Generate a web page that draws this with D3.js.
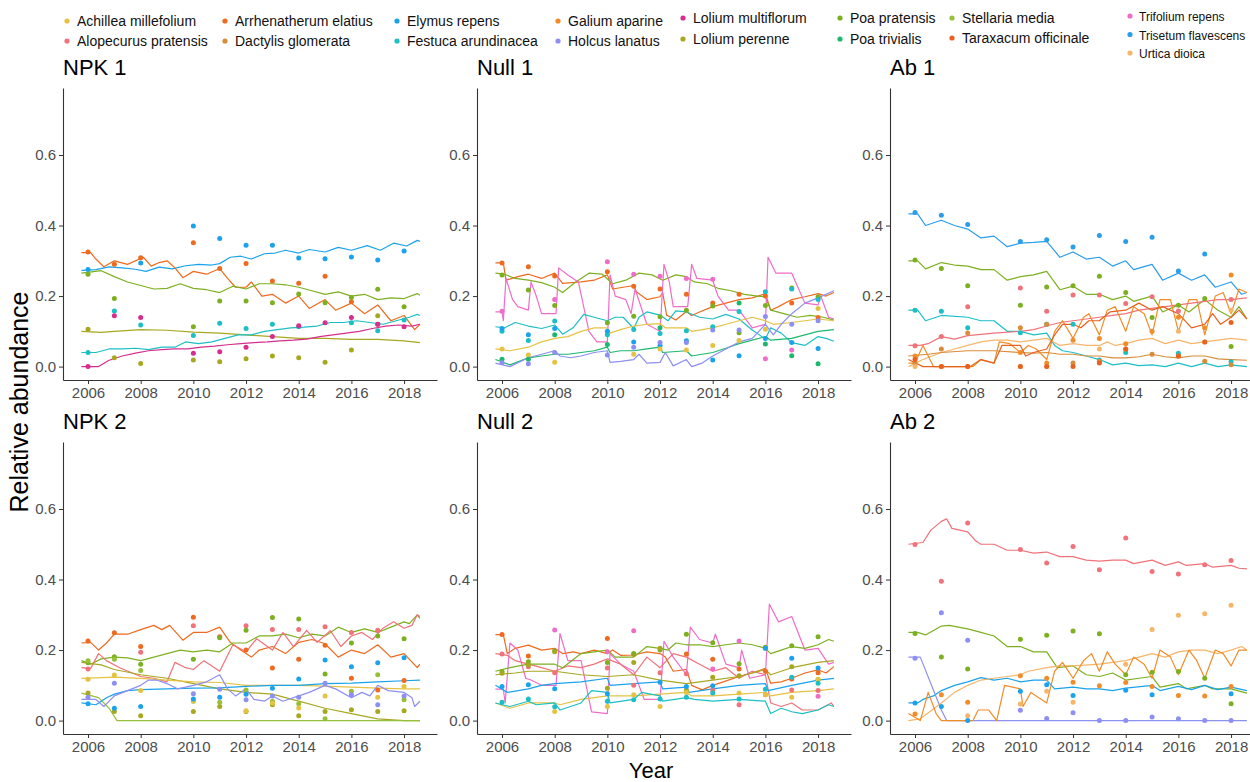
<!DOCTYPE html>
<html>
<head>
<meta charset="utf-8">
<script src="https://cdn.jsdelivr.net/npm/d3@7/dist/d3.min.js"></script>
<style>
  body { margin: 0; background: #fff; }
  svg { display: block; font-family: "Liberation Sans", Arial, sans-serif; }
</style>
</head>
<body>
<svg id="chart" width="1250" height="782"></svg>
<script>
'use strict';

/*** Data */
const species = [
  "Achillea millefolium", "Alopecurus pratensis", "Arrhenatherum elatius", "Dactylis glomerata",
  "Elymus repens", "Festuca arundinacea", "Galium aparine", "Holcus lanatus",
  "Lolium multiflorum", "Lolium perenne", "Poa pratensis", "Poa trivialis",
  "Stellaria media", "Taraxacum officinale", "Trifolium repens", "Trisetum flavescens", "Urtica dioica"
];
const speciesColors = [
  "#e6c243", "#f0727a", "#ee6a1e", "#d98c3a",
  "#1aa3ec", "#1cbfc6", "#f28c28", "#8d8ff2",
  "#d62e8e", "#a8a820", "#7db020", "#1db86d",
  "#98bf3a", "#e8611f", "#f06cc9", "#2b9eeb", "#f5b56b"
];

const panelNames = ["NPK 1", "Null 1", "Ab 1", "NPK 2", "Null 2", "Ab 2"];
const yTicks = [0, 0.2, 0.4, 0.6];
const xTicks = [2006, 2008, 2010, 2012, 2014, 2016, 2018];
// years with field observations (no 2009 survey)
const obsYears = [2006, 2007, 2008, 2010, 2011, 2012, 2013, 2014, 2015, 2016, 2017, 2018];

/* NPK 1 */
const npk1Fits = {
  "Elymus repens": [[2005.75,.273],[2006.3,.275],[2006.8,.283],[2007.3,.28],[2007.8,.276],[2008.2,.27],[2008.7,.282],[2009.2,.277],[2009.7,.286],[2010.2,.29],[2010.7,.288],[2011.0,.292],[2011.4,.31],[2011.8,.313],[2012.2,.305],[2012.7,.32],[2013.1,.322],[2013.5,.33],[2014.0,.322],[2014.4,.332],[2015.0,.325],[2015.5,.338],[2016.0,.33],[2016.6,.343],[2017.1,.33],[2017.6,.35],[2018.1,.342],[2018.5,.358],[2018.6,.355]],
  "Arrhenatherum elatius": [[2005.75,.323],[2006.1,.323],[2006.3,.305],[2006.6,.283],[2007.0,.3],[2007.5,.29],[2008.1,.31],[2008.4,.285],[2008.7,.295],[2009.0,.3],[2009.3,.28],[2009.6,.252],[2010.0,.27],[2010.5,.262],[2011.0,.278],[2011.3,.25],[2011.6,.225],[2012.0,.225],[2012.2,.24],[2012.6,.2],[2013.0,.205],[2013.5,.18],[2014.0,.2],[2014.4,.165],[2015.0,.19],[2015.4,.16],[2016.0,.18],[2016.5,.15],[2017.0,.175],[2017.5,.13],[2018.0,.145],[2018.4,.105],[2018.6,.12]],
  "Poa pratensis": [[2005.75,.265],[2006.5,.272],[2007.0,.255],[2007.5,.24],[2008.0,.23],[2008.5,.22],[2009.0,.222],[2009.5,.235],[2010.0,.222],[2010.5,.218],[2011.0,.21],[2011.5,.228],[2012.0,.22],[2012.5,.235],[2013.0,.235],[2013.5,.232],[2014.0,.225],[2014.5,.215],[2015.0,.205],[2015.5,.212],[2016.0,.2],[2016.5,.205],[2017.0,.19],[2017.5,.195],[2018.0,.193],[2018.5,.207],[2018.6,.202]],
  "Lolium perenne": [[2005.75,.1],[2006.5,.097],[2007.0,.1],[2008.0,.105],[2009.0,.103],[2010.0,.098],[2011.0,.095],[2012.0,.09],[2013.0,.085],[2014.0,.08],[2015.0,.08],[2016.0,.077],[2017.0,.077],[2018.0,.073],[2018.6,.068]],
  "Festuca arundinacea": [[2005.75,.04],[2006.3,.04],[2006.8,.05],[2007.3,.05],[2007.8,.052],[2008.3,.048],[2008.8,.055],[2009.3,.055],[2009.7,.07],[2010.2,.065],[2010.7,.07],[2011.2,.08],[2011.7,.09],[2012.2,.09],[2012.7,.1],[2013.2,.105],[2013.7,.11],[2014.2,.112],[2014.7,.115],[2015.2,.125],[2015.7,.125],[2016.2,.13],[2016.7,.125],[2017.2,.12],[2017.7,.13],[2018.2,.14],[2018.5,.148],[2018.6,.145]],
  "Lolium multiflorum": [[2005.75,0],[2006.4,0],[2006.8,.018],[2007.3,.03],[2007.8,.038],[2008.3,.045],[2008.8,.048],[2009.3,.05],[2009.8,.05],[2010.3,.055],[2010.8,.058],[2011.3,.062],[2011.8,.065],[2012.3,.068],[2012.8,.07],[2013.3,.073],[2013.8,.075],[2014.3,.078],[2014.8,.085],[2015.3,.09],[2015.8,.095],[2016.3,.1],[2016.8,.108],[2017.3,.115],[2017.8,.118],[2018.3,.115],[2018.6,.12]]
};
const npk1Obs = {
  "Elymus repens": [.275,null,.294,.399,.363,.344,.344,.308,.306,.311,.302,.328],
  "Arrhenatherum elatius": [.325,.29,.309,.351,.278,.292,.243,.236,.256,.184,.12,null],
  "Poa pratensis": [.262,.193,null,.113,.186,.186,.181,.206,.181,.196,.219,.17],
  "Lolium perenne": [.106,.025,.009,.019,.014,.022,.03,.025,.012,.047,.144,null],
  "Festuca arundinacea": [.04,.158,.118,.088,.123,.108,.12,.113,null,.124,.102,.132],
  "Lolium multiflorum": [0,.144,.139,.038,.042,.055,.085,.116,.124,.139,.12,.113]
};

/* Null 1 */
const null1Fits = {
  "Arrhenatherum elatius": [[2005.75,.294],[2006.05,.294],[2006.15,.245],[2006.6,.255],[2007.0,.262],[2007.5,.25],[2008.0,.265],[2008.3,.236],[2009.0,.24],[2009.5,.245],[2010.0,.26],[2010.2,.22],[2010.6,.225],[2011.0,.23],[2011.1,.212],[2011.5,.19],[2012.0,.198],[2012.1,.21],[2012.25,.146],[2012.6,.132],[2013.0,.156],[2013.2,.145],[2013.5,.155],[2014.0,.17],[2014.5,.18],[2015.0,.19],[2015.5,.195],[2016.0,.207],[2016.2,.16],[2016.5,.17],[2017.0,.19],[2017.5,.198],[2018.0,.207],[2018.3,.2],[2018.6,.21]],
  "Poa pratensis": [[2005.75,.265],[2006.1,.262],[2006.5,.25],[2007.0,.245],[2007.5,.238],[2008.0,.225],[2008.3,.21],[2008.8,.24],[2009.3,.265],[2009.8,.262],[2010.2,.235],[2010.7,.245],[2011.2,.265],[2011.7,.26],[2012.1,.245],[2012.6,.26],[2013.0,.255],[2013.3,.24],[2013.8,.235],[2014.2,.222],[2014.7,.215],[2015.2,.205],[2015.7,.2],[2016.0,.198],[2016.2,.16],[2016.7,.15],[2017.2,.14],[2017.7,.145],[2018.2,.14],[2018.6,.132]],
  "Trifolium repens": [[2005.75,.155],[2006.0,.155],[2006.05,.13],[2006.15,.25],[2006.4,.19],[2006.6,.17],[2007.0,.16],[2007.1,.24],[2007.3,.2],[2007.5,.15],[2008.05,.15],[2008.15,.28],[2008.5,.26],[2008.9,.24],[2009.3,.1],[2009.6,.07],[2010.0,.07],[2010.1,.26],[2010.3,.2],[2010.7,.19],[2010.9,.15],[2011.05,.22],[2011.5,.12],[2012.0,.1],[2012.15,.29],[2012.35,.24],[2012.5,.17],[2013.05,.17],[2013.2,.29],[2013.4,.25],[2014.0,.245],[2014.2,.2],[2014.6,.16],[2015.0,.16],[2015.5,.11],[2016.0,.12],[2016.1,.31],[2016.4,.265],[2017.0,.265],[2017.5,.18],[2018.0,.175],[2018.1,.2],[2018.4,.14],[2018.6,.135]],
  "Festuca arundinacea": [[2005.75,.113],[2006.1,.11],[2006.5,.125],[2007.0,.115],[2007.5,.108],[2008.0,.118],[2008.3,.092],[2008.7,.11],[2009.1,.148],[2009.5,.14],[2010.0,.13],[2010.3,.14],[2010.6,.14],[2011.0,.108],[2011.2,.14],[2011.5,.155],[2012.0,.146],[2012.3,.13],[2012.6,.158],[2013.0,.155],[2013.5,.14],[2014.0,.135],[2014.5,.148],[2015.0,.135],[2015.5,.104],[2016.0,.078],[2016.2,.11],[2016.6,.095],[2017.0,.068],[2017.5,.06],[2018.0,.085],[2018.3,.08],[2018.6,.072]],
  "Achillea millefolium": [[2005.75,.05],[2006.3,.045],[2007.0,.055],[2007.5,.07],[2008.0,.08],[2008.5,.085],[2009.0,.1],[2009.5,.11],[2010.0,.11],[2010.1,.095],[2010.5,.105],[2011.0,.115],[2011.5,.12],[2012.0,.122],[2012.2,.11],[2013.0,.11],[2013.2,.1],[2014.0,.11],[2014.5,.12],[2015.0,.13],[2015.5,.14],[2016.0,.13],[2016.3,.12],[2017.0,.125],[2017.5,.13],[2018.0,.135],[2018.6,.13]],
  "Poa trivialis": [[2005.75,.02],[2006.3,.005],[2007.0,.025],[2007.5,.03],[2008.0,.035],[2008.5,.035],[2009.0,.04],[2009.5,.045],[2010.0,.055],[2010.1,.04],[2010.5,.045],[2011.0,.045],[2011.5,.05],[2012.0,.055],[2012.1,.04],[2013.0,.045],[2013.2,.03],[2014.0,.04],[2014.5,.052],[2015.0,.065],[2015.5,.075],[2016.0,.085],[2016.2,.075],[2017.0,.08],[2017.5,.09],[2018.0,.1],[2018.6,.105]],
  "Holcus lanatus": [[2005.75,.01],[2006.3,0],[2007.0,.025],[2007.5,.035],[2008.0,.045],[2008.2,.03],[2008.6,.025],[2009.0,.03],[2009.5,.04],[2010.0,.045],[2010.1,.012],[2010.5,.015],[2011.0,.02],[2011.2,.035],[2011.5,.01],[2012.0,.012],[2012.2,.04],[2012.5,.002],[2013.0,.02],[2013.2,0],[2013.6,.01],[2014.0,.03],[2014.5,.05],[2015.0,.07],[2015.5,.08],[2016.0,.12],[2016.3,.09],[2016.6,.12],[2017.0,.15],[2017.5,.18],[2018.0,.195],[2018.6,.215]]
};
const null1Obs = {
  "Arrhenatherum elatius": [.294,.283,.257,.269,.228,.22,.205,.18,.205,.2,.18,.139],
  "Poa pratensis": [.26,.217,.173,.124,.143,.141,.16,.172,.096,.173,.223,.198],
  "Trifolium repens": [.157,null,.19,.297,.262,.256,.25,.248,null,.022,.047,null],
  "Festuca arundinacea": [.1,.074,.129,.09,.105,.094,.102,.113,.156,.212,.22,.19],
  "Elymus repens": [.108,.09,.108,.1,.07,.06,.073,.019,.031,.08,.068,.051],
  "Achillea millefolium": [.05,.033,.012,null,.035,.05,.047,.06,.074,.106,null,.165],
  "Poa trivialis": [.021,.021,.09,.063,null,.11,null,null,.18,.064,.031,.008],
  "Holcus lanatus": [.011,.008,.04,.033,.055,.068,.068,.104,.104,.142,.12,.13]
};

/* Ab 1 */
const ab1Fits = {
  "Trisetum flavescens": [[2005.75,.433],[2006.1,.433],[2006.4,.4],[2007.0,.415],[2007.5,.4],[2008.0,.39],[2008.5,.365],[2009.0,.37],[2009.5,.34],[2010.0,.35],[2010.5,.352],[2011.0,.355],[2011.5,.31],[2012.0,.325],[2012.5,.305],[2013.0,.31],[2013.5,.285],[2014.0,.3],[2014.3,.275],[2015.0,.29],[2015.4,.245],[2016.0,.265],[2016.5,.245],[2017.0,.26],[2017.4,.225],[2018.0,.24],[2018.4,.205],[2018.6,.21]],
  "Poa pratensis": [[2005.75,.3],[2006.1,.3],[2006.4,.277],[2007.0,.295],[2007.5,.288],[2008.0,.285],[2008.5,.275],[2009.0,.275],[2009.5,.245],[2010.0,.255],[2010.5,.26],[2011.0,.27],[2011.5,.218],[2012.0,.228],[2012.5,.205],[2013.0,.205],[2013.5,.19],[2014.0,.2],[2014.3,.185],[2015.0,.2],[2015.4,.155],[2016.0,.175],[2016.4,.155],[2017.0,.19],[2017.5,.16],[2018.0,.14],[2018.3,.17],[2018.6,.135]],
  "Festuca arundinacea": [[2005.75,.16],[2006.1,.16],[2006.4,.13],[2007.0,.145],[2008.0,.14],[2008.5,.13],[2009.0,.13],[2009.5,.1],[2010.0,.1],[2010.5,.09],[2011.0,.095],[2011.3,.06],[2011.6,.045],[2012.0,.04],[2012.5,.03],[2013.0,.02],[2013.5,.005],[2014.0,.01],[2014.5,.003],[2015.0,.005],[2015.5,0],[2016.0,.01],[2016.5,0],[2017.0,.01],[2017.5,0],[2018.0,.005],[2018.6,0]],
  "Alopecurus pratensis": [[2005.75,.06],[2006.2,.06],[2006.5,.065],[2007.0,.085],[2007.5,.078],[2008.0,.088],[2009.0,.095],[2010.0,.1],[2010.5,.105],[2011.0,.115],[2011.5,.125],[2012.0,.13],[2012.5,.135],[2013.0,.14],[2013.5,.145],[2014.0,.15],[2014.5,.16],[2015.0,.165],[2015.5,.17],[2016.0,.175],[2016.5,.18],[2017.0,.185],[2017.5,.19],[2018.0,.19],[2018.6,.195]],
  "Urtica dioica": [[2005.75,0],[2006.3,.02],[2007.0,.04],[2007.5,.05],[2008.0,.06],[2008.5,.07],[2009.0,.075],[2009.5,.075],[2010.0,.07],[2010.5,.075],[2011.0,.08],[2011.5,.06],[2012.0,.065],[2012.5,.06],[2013.0,.06],[2013.3,.07],[2013.6,.06],[2014.0,.065],[2014.5,.075],[2015.0,.08],[2015.5,.065],[2016.0,.075],[2016.5,.065],[2017.0,.07],[2017.5,.075],[2018.0,.08],[2018.6,.075]],
  "Dactylis glomerata": [[2005.75,.03],[2006.5,.035],[2007.0,.04],[2008.0,.045],[2009.0,.045],[2010.0,.04],[2010.5,.038],[2011.0,.04],[2011.5,.035],[2012.0,.035],[2012.5,.03],[2013.0,.03],[2013.5,.025],[2014.0,.025],[2014.5,.028],[2015.0,.035],[2015.5,.028],[2016.0,.025],[2016.5,.03],[2017.0,.03],[2017.5,.022],[2018.0,.02],[2018.6,.018]],
  "Galium aparine": [[2005.75,.01],[2006.0,.01],[2006.3,.06],[2006.7,0],[2008.2,0],[2008.5,.02],[2009.0,.01],[2009.2,.07],[2009.6,.065],[2010.0,.04],[2010.3,.06],[2010.6,.05],[2011.0,.02],[2011.3,.1],[2011.6,.13],[2012.0,.08],[2012.4,.14],[2012.6,.15],[2013.0,.09],[2013.3,.16],[2013.6,.17],[2014.0,.1],[2014.3,.17],[2014.7,.15],[2015.0,.09],[2015.3,.19],[2015.7,.19],[2016.0,.1],[2016.4,.19],[2016.7,.19],[2017.0,.09],[2017.4,.2],[2017.7,.21],[2018.0,.15],[2018.3,.22],[2018.6,.21]],
  "Taraxacum officinale": [[2005.75,.02],[2006.3,0],[2008.1,0],[2008.5,.02],[2009.0,.01],[2009.3,.06],[2010.0,.06],[2010.2,.03],[2010.5,.04],[2011.0,.05],[2011.3,.09],[2011.6,.12],[2012.0,.12],[2012.3,.11],[2012.6,.13],[2013.0,.13],[2013.4,.155],[2014.0,.16],[2014.5,.18],[2015.0,.16],[2015.4,.17],[2016.0,.15],[2016.5,.11],[2017.0,.12],[2017.3,.15],[2017.6,.12],[2018.0,.14],[2018.3,.16],[2018.6,.135]]
};
const ab1Obs = {
  "Trisetum flavescens": [.437,.429,.403,.355,.36,.339,.372,.355,.367,.271,.319,null],
  "Poa pratensis": [.302,.278,.229,.174,.226,.229,.256,.21,.139,.174,.193,.057],
  "Festuca arundinacea": [.16,.157,.11,.096,.12,.12,.019,.04,null,.038,null,.014],
  "Alopecurus pratensis": [.059,.085,.17,.223,.157,.203,.203,.179,.198,.158,null,.19],
  "Galium aparine": [.03,0,0,.04,.01,.075,.08,.065,.1,.14,.11,.26],
  "Dactylis glomerata": [.01,.05,.095,.11,.12,.01,.015,.05,.035,.03,.015,.005],
  "Urtica dioica": [0,null,null,0,0,null,.05,null,null,.1,.07,.16],
  "Taraxacum officinale": [.02,0,0,0,0,0,.01,.05,null,.03,.07,.125]
};

/* NPK 2 */
const npk2Fits = {
  "Arrhenatherum elatius": [[2005.75,.22],[2006.1,.222],[2006.4,.2],[2006.7,.22],[2007.0,.245],[2007.5,.245],[2008.0,.258],[2008.5,.27],[2008.8,.258],[2009.1,.27],[2009.6,.228],[2010.0,.25],[2010.5,.25],[2011.0,.265],[2011.4,.222],[2011.8,.2],[2012.2,.18],[2012.5,.2],[2013.0,.21],[2013.5,.19],[2014.0,.222],[2014.5,.23],[2015.0,.218],[2015.5,.18],[2016.0,.2],[2016.5,.19],[2017.0,.215],[2017.5,.18],[2018.0,.19],[2018.5,.15],[2018.6,.16]],
  "Poa pratensis": [[2005.75,.17],[2006.1,.16],[2006.5,.175],[2007.0,.18],[2007.5,.178],[2008.0,.17],[2008.5,.18],[2009.0,.19],[2009.5,.2],[2010.0,.195],[2010.5,.2],[2011.0,.195],[2011.5,.22],[2012.0,.22],[2012.5,.24],[2013.0,.24],[2013.5,.245],[2014.0,.235],[2014.5,.245],[2015.0,.24],[2015.5,.265],[2016.0,.25],[2016.5,.26],[2017.0,.25],[2017.5,.265],[2018.0,.28],[2018.2,.275],[2018.5,.3],[2018.6,.29]],
  "Alopecurus pratensis": [[2005.75,.15],[2006.1,.148],[2006.4,.19],[2006.7,.17],[2007.2,.15],[2008.0,.125],[2008.5,.12],[2009.0,.11],[2009.3,.165],[2009.7,.15],[2010.0,.145],[2010.4,.17],[2011.0,.14],[2011.5,.215],[2012.0,.195],[2012.4,.232],[2013.0,.2],[2013.4,.25],[2013.8,.21],[2014.3,.256],[2014.7,.222],[2015.2,.255],[2015.6,.21],[2016.0,.24],[2016.4,.25],[2016.8,.23],[2017.2,.262],[2017.6,.28],[2018.0,.262],[2018.3,.27],[2018.5,.3],[2018.6,.295]],
  "Lolium perenne": [[2005.75,.165],[2006.5,.158],[2007.0,.145],[2008.0,.13],[2009.0,.12],[2010.0,.105],[2011.0,.09],[2012.0,.08],[2013.0,.075],[2014.0,.055],[2015.0,.035],[2016.0,.02],[2017.0,.005],[2018.0,0],[2018.6,0]],
  "Stellaria media": [[2005.75,.078],[2006.4,.065],[2006.8,.035],[2007.1,0],[2012.0,0],[2018.6,0]],
  "Achillea millefolium": [[2005.75,.12],[2007.0,.123],[2008.0,.12],[2009.0,.115],[2010.0,.11],[2011.0,.108],[2012.0,.1],[2013.0,.1],[2014.0,.1],[2015.0,.098],[2016.0,.095],[2017.0,.092],[2018.0,.09],[2018.6,.09]],
  "Elymus repens": [[2005.75,.05],[2006.3,.045],[2006.7,.065],[2007.0,.075],[2007.5,.085],[2008.0,.088],[2009.0,.09],[2010.0,.092],[2011.0,.093],[2012.0,.097],[2013.0,.1],[2014.0,.1],[2015.0,.105],[2016.0,.106],[2017.0,.11],[2018.0,.113],[2018.6,.115]],
  "Holcus lanatus": [[2005.75,.06],[2006.3,.06],[2006.6,.04],[2007.0,.07],[2007.5,.085],[2008.0,.1],[2008.3,.115],[2008.6,.115],[2009.0,.105],[2009.4,.09],[2010.0,.1],[2010.5,.11],[2011.0,.13],[2011.3,.09],[2011.6,.07],[2012.0,.09],[2012.3,.06],[2012.7,.055],[2013.0,.07],[2013.4,.055],[2014.0,.07],[2014.4,.08],[2015.0,.1],[2015.4,.09],[2016.0,.065],[2016.4,.08],[2016.7,.07],[2017.0,.1],[2017.4,.085],[2018.0,.08],[2018.3,.065],[2018.4,.04],[2018.6,.055]]
};
const npk2Obs = {
  "Arrhenatherum elatius": [.226,.249,.21,.293,.238,.2,.149,.174,.214,.12,.087,.114],
  "Alopecurus pratensis": [.146,null,.194,.269,null,.269,.258,.258,.266,.25,.256,null],
  "Poa pratensis": [.164,.181,.16,.174,.235,.256,.292,.288,.132,.22,.24,.232],
  "Lolium perenne": [.078,.026,.014,.026,.04,.026,.045,.014,.026,.031,.026,.028],
  "Stellaria media": [.17,.174,.142,.055,.052,.087,.055,.048,.005,.083,.13,.059],
  "Achillea millefolium": [.117,.129,.085,.056,null,.028,.05,.036,.07,null,.066,.097],
  "Elymus repens": [.048,.035,.04,.061,.066,.075,.092,.118,.172,.153,.164,.178],
  "Holcus lanatus": [.066,.106,null,.076,.089,.059,.07,.066,.106,.073,.045,.07]
};

/* Null 2 */
const null2Fits = {
  "Arrhenatherum elatius": [[2005.75,.244],[2006.05,.244],[2006.2,.19],[2006.5,.205],[2007.0,.214],[2007.5,.2],[2008.0,.205],[2008.3,.19],[2008.7,.195],[2009.0,.19],[2009.5,.2],[2010.0,.19],[2010.2,.2],[2010.5,.185],[2011.0,.186],[2011.5,.195],[2012.0,.19],[2012.2,.18],[2012.5,.14],[2013.0,.145],[2013.2,.1],[2013.6,.087],[2014.0,.1],[2014.4,.11],[2015.0,.125],[2015.5,.135],[2016.0,.148],[2016.2,.106],[2016.6,.11],[2017.0,.12],[2017.5,.135],[2018.0,.144],[2018.3,.135],[2018.6,.153]],
  "Trifolium repens": [[2005.75,.089],[2006.05,.089],[2006.12,.05],[2006.3,.22],[2006.6,.2],[2006.9,.12],[2007.1,.115],[2007.5,.1],[2008.05,.1],[2008.2,.247],[2008.5,.17],[2009.0,.17],[2009.4,.025],[2010.0,.02],[2010.1,.19],[2010.5,.16],[2011.0,.14],[2011.4,.06],[2012.0,.06],[2012.15,.225],[2012.5,.18],[2013.0,.13],[2013.15,.265],[2013.5,.23],[2014.0,.22],[2014.1,.245],[2014.5,.16],[2015.0,.15],[2015.1,.2],[2015.4,.12],[2016.0,.13],[2016.15,.33],[2016.5,.28],[2017.0,.295],[2017.5,.2],[2018.0,.205],[2018.4,.16],[2018.6,.165]],
  "Alopecurus pratensis": [[2005.75,.19],[2006.2,.185],[2006.5,.17],[2007.0,.16],[2007.5,.15],[2008.0,.14],[2008.5,.155],[2009.0,.15],[2009.5,.16],[2010.0,.175],[2010.5,.16],[2011.0,.13],[2011.5,.18],[2012.0,.15],[2012.5,.19],[2013.0,.18],[2013.5,.16],[2014.0,.14],[2014.5,.15],[2015.0,.12],[2015.5,.14],[2016.0,.13],[2016.2,.05],[2016.6,.04],[2017.0,.05],[2017.4,.03],[2018.0,.03],[2018.5,.05],[2018.6,.04]],
  "Poa pratensis": [[2005.75,.14],[2006.3,.15],[2007.0,.16],[2008.0,.16],[2008.3,.15],[2009.0,.19],[2009.5,.195],[2010.0,.2],[2010.3,.18],[2011.0,.18],[2011.5,.21],[2012.0,.205],[2012.3,.2],[2012.6,.22],[2013.0,.215],[2013.5,.215],[2014.0,.21],[2014.5,.215],[2015.0,.22],[2015.5,.215],[2016.0,.205],[2016.2,.19],[2016.6,.2],[2017.0,.21],[2017.5,.205],[2018.0,.215],[2018.4,.23],[2018.6,.225]],
  "Lolium perenne": [[2005.75,.13],[2006.5,.135],[2007.0,.14],[2008.0,.14],[2009.0,.13],[2010.0,.125],[2011.0,.13],[2012.0,.115],[2013.0,.105],[2014.0,.115],[2015.0,.125],[2016.0,.145],[2016.2,.13],[2017.0,.15],[2018.0,.165],[2018.6,.17]],
  "Elymus repens": [[2005.75,.1],[2006.2,.08],[2007.0,.09],[2007.5,.1],[2008.0,.105],[2009.0,.11],[2010.0,.12],[2010.1,.1],[2011.0,.105],[2012.0,.11],[2012.1,.09],[2013.0,.095],[2013.1,.08],[2014.0,.09],[2015.0,.1],[2016.0,.105],[2016.1,.085],[2017.0,.1],[2018.0,.115],[2018.6,.12]],
  "Achillea millefolium": [[2005.75,.05],[2006.3,.035],[2007.0,.05],[2008.0,.05],[2008.2,.045],[2009.0,.06],[2010.0,.07],[2011.0,.07],[2012.0,.075],[2013.0,.08],[2013.2,.07],[2014.0,.07],[2015.0,.075],[2016.0,.08],[2016.2,.07],[2017.0,.08],[2018.0,.085],[2018.6,.09]],
  "Festuca arundinacea": [[2005.75,.05],[2006.3,.04],[2007.0,.055],[2007.3,.045],[2008.0,.05],[2008.2,.03],[2009.0,.05],[2009.4,.085],[2010.0,.08],[2010.1,.05],[2011.0,.06],[2011.3,.08],[2012.0,.07],[2012.1,.055],[2013.0,.065],[2013.3,.06],[2014.0,.055],[2015.0,.06],[2016.0,.055],[2016.2,.02],[2016.6,.035],[2017.0,.025],[2017.4,.02],[2018.0,.03],[2018.4,.045],[2018.6,.04]]
};
const null2Obs = {
  "Arrhenatherum elatius": [.244,.183,null,.233,.188,null,.189,.174,.146,.14,.118,.136],
  "Alopecurus pratensis": [.189,.153,.136,.149,.1,.136,.133,.087,.045,.073,.087,.085],
  "Trifolium repens": [null,null,.257,.195,.255,null,null,.146,.226,null,null,.069],
  "Poa pratensis": [.139,.167,.198,.165,.19,.2,.245,.221,.161,.208,.212,.238],
  "Lolium perenne": [.134,.158,.195,.092,.165,.205,.087,.123,.127,.205,.153,.116],
  "Elymus repens": [.097,.102,.09,.076,null,.109,.097,.099,null,.205,.177,.149],
  "Achillea millefolium": [null,null,.026,.04,.073,.04,.08,null,.078,.073,.066,.117],
  "Festuca arundinacea": [.052,.061,.039,.055,.059,.061,.066,.078,.061,.089,.123,.106]
};

/* Ab 2 */
const ab2Fits = {
  "Alopecurus pratensis": [[2005.75,.5],[2006.3,.505],[2006.6,.54],[2007.0,.565],[2007.2,.572],[2007.4,.545],[2008.0,.535],[2008.3,.51],[2008.5,.5],[2009.0,.5],[2009.5,.483],[2010.0,.483],[2010.5,.475],[2011.0,.478],[2011.5,.465],[2012.0,.465],[2012.5,.455],[2013.0,.452],[2013.5,.455],[2014.0,.455],[2014.3,.445],[2015.0,.455],[2015.5,.44],[2016.0,.45],[2016.3,.44],[2017.0,.445],[2017.3,.435],[2018.0,.44],[2018.3,.432],[2018.6,.43]],
  "Poa pratensis": [[2005.75,.25],[2006.1,.25],[2006.4,.243],[2007.0,.268],[2007.3,.27],[2008.0,.26],[2008.5,.25],[2009.0,.24],[2009.5,.21],[2010.0,.21],[2010.5,.195],[2011.0,.195],[2011.4,.15],[2012.0,.155],[2012.5,.13],[2013.0,.125],[2013.5,.135],[2014.0,.115],[2014.5,.12],[2015.0,.125],[2015.3,.095],[2016.0,.105],[2016.3,.09],[2017.0,.1],[2017.3,.09],[2018.0,.09],[2018.6,.078]],
  "Elymus repens": [[2005.75,.05],[2006.1,.05],[2006.3,.06],[2006.7,.07],[2007.0,.085],[2007.5,.1],[2008.0,.11],[2008.5,.122],[2009.0,.115],[2009.5,.12],[2010.0,.11],[2010.5,.115],[2011.0,.115],[2011.3,.09],[2012.0,.095],[2012.5,.09],[2013.0,.09],[2013.5,.085],[2014.0,.092],[2015.0,.1],[2015.3,.085],[2016.0,.097],[2016.5,.088],[2017.0,.1],[2017.5,.088],[2018.0,.095],[2018.6,.085]],
  "Holcus lanatus": [[2005.75,.18],[2006.2,.18],[2007.0,.03],[2007.2,0],[2012.0,0],[2018.6,0]],
  "Urtica dioica": [[2005.75,0],[2006.2,.005],[2007.0,.05],[2007.5,.08],[2008.0,.1],[2008.5,.115],[2009.0,.12],[2009.5,.125],[2010.0,.13],[2010.3,.14],[2011.0,.15],[2011.5,.155],[2012.0,.155],[2013.0,.16],[2013.5,.165],[2014.0,.17],[2014.5,.18],[2015.0,.19],[2015.5,.18],[2016.0,.195],[2016.5,.2],[2017.0,.2],[2017.5,.19],[2018.0,.2],[2018.4,.21],[2018.6,.2]],
  "Galium aparine": [[2005.75,.02],[2006.2,0],[2006.5,.08],[2006.8,.02],[2007.0,0],[2008.2,0],[2008.4,.03],[2008.8,.03],[2009.1,0],[2009.4,.1],[2010.0,.09],[2010.1,.04],[2010.4,.08],[2010.8,.06],[2011.0,.05],[2011.3,.14],[2011.6,.165],[2012.0,.12],[2012.4,.17],[2012.7,.19],[2013.0,.14],[2013.3,.195],[2013.6,.16],[2014.0,.13],[2014.3,.18],[2014.7,.16],[2015.0,.12],[2015.3,.2],[2015.7,.18],[2016.0,.13],[2016.4,.2],[2016.7,.17],[2017.0,.12],[2017.4,.2],[2017.7,.19],[2018.0,.155],[2018.3,.2],[2018.6,.2]]
};
const ab2Obs = {
  "Alopecurus pratensis": [.499,.395,.56,.485,.447,.494,.428,.518,.423,.416,.442,.454],
  "Poa pratensis": [.247,.18,.146,.231,.242,.254,.246,.13,.137,.139,.12,.048],
  "Elymus repens": [.05,.04,0,.083,.102,.071,null,.086,.073,null,null,.076],
  "Holcus lanatus": [.177,.306,.228,.029,.006,.022,0,0,.01,.005,0,0],
  "Urtica dioica": [null,null,.014,.047,.083,.052,null,.16,.258,.299,.303,.327],
  "Galium aparine": [.019,.073,.052,.127,.12,.109,.099,.108,.097,.071,.07,.097]
};

const panelFits = [npk1Fits, null1Fits, ab1Fits, npk2Fits, null2Fits, ab2Fits];
const panelObs = [npk1Obs, null1Obs, ab1Obs, npk2Obs, null2Obs, ab2Obs];

/*** Layout */
const colLeft = [63, 477, 890];
const rowTop = [88, 442];
const rowBottom = [380, 734];
const panelW = 374;

const color = d3.scaleOrdinal(species, speciesColors);
const svg = d3.select("#chart");

/*** Panels */
panelNames.forEach((name, i) => {
  const row = Math.floor(i / 3), col = i % 3;
  const left = colLeft[col];
  const x = d3.scaleLinear().domain([2005.05, 2019.25]).range([left, left + panelW]);
  const y = d3.scaleLinear().domain([-0.038, 0.79]).range([rowBottom[row], rowTop[row]]);
  const g = svg.append("g").attr("class", "panel");

  // lines (model fits)
  const line = d3.line().x(d => x(d[0])).y(d => y(d[1]));
  Object.entries(panelFits[i]).forEach(([sp, pts]) => {
    g.append("path")
      .attr("d", line(pts))
      .attr("fill", "none")
      .attr("stroke", color(sp))
      .attr("stroke-width", 1.2)
      .attr("stroke-linejoin", "round");
  });

  // points (observed)
  Object.entries(panelObs[i]).forEach(([sp, vals]) => {
    const pts = vals.map((v, k) => [obsYears[k], v]).filter(d => d[1] !== null);
    g.selectAll(null).data(pts).enter().append("circle")
      .attr("cx", d => x(d[0]))
      .attr("cy", d => y(d[1]))
      .attr("r", 2.5)
      .attr("fill", color(sp));
  });

  // axes
  const yAxis = d3.axisLeft(y).tickValues(yTicks).tickFormat(d3.format(".1f"))
    .tickSizeInner(4).tickSizeOuter(0).tickPadding(3);
  const xAxis = d3.axisBottom(x).tickValues(xTicks).tickFormat(d3.format("d"))
    .tickSizeInner(4).tickSizeOuter(0).tickPadding(3);

  const ga = g.append("g").attr("transform", `translate(${left},0)`).call(yAxis);
  const gb = g.append("g").attr("transform", `translate(0,${rowBottom[row]})`).call(xAxis);
  [ga, gb].forEach(a => {
    a.select(".domain").attr("stroke", "#333").attr("stroke-width", 1.1);
    a.selectAll(".tick line").attr("stroke", "#333");
    a.selectAll(".tick text").attr("fill", "#4d4d4d").style("font-size", "15px");
  });

  // panel title
  g.append("text")
    .attr("x", left)
    .attr("y", rowTop[row] - 13)
    .attr("fill", "#000")
    .style("font-size", "22px")
    .text(name);
});

/*** Axis titles */
svg.append("text")
  .attr("transform", "translate(28,402) rotate(-90)")
  .attr("text-anchor", "middle")
  .style("font-size", "25px")
  .text("Relative abundance");

svg.append("text")
  .attr("x", 651)
  .attr("y", 778)
  .attr("text-anchor", "middle")
  .style("font-size", "22px")
  .text("Year");

/*** Legend */
const legendColX = [67, 225, 397, 558, 683, 840, 952, 1130];
const legendColY = [21, 21, 21, 21, 18, 18, 18, 16];
const legendRowH = [20, 20, 20, 20, 21, 21, 20, 18.5];
const legendFont = [14, 14, 14, 14, 14, 14, 14, 12];
species.forEach((sp, k) => {
  const c = Math.min(Math.floor(k / 2), 7);
  const r = k - c * 2;
  const lx = legendColX[c], ly = legendColY[c] + r * legendRowH[c];
  const lg = svg.append("g").attr("class", "legend-item");
  lg.append("circle").attr("cx", lx).attr("cy", ly).attr("r", 2.6).attr("fill", color(sp));
  lg.append("text").attr("x", lx + (c === 7 ? 9 : 10)).attr("y", ly + 5)
    .style("font-size", legendFont[c] + "px").attr("fill", "#111").text(sp);
});
</script>
</body>
</html>
